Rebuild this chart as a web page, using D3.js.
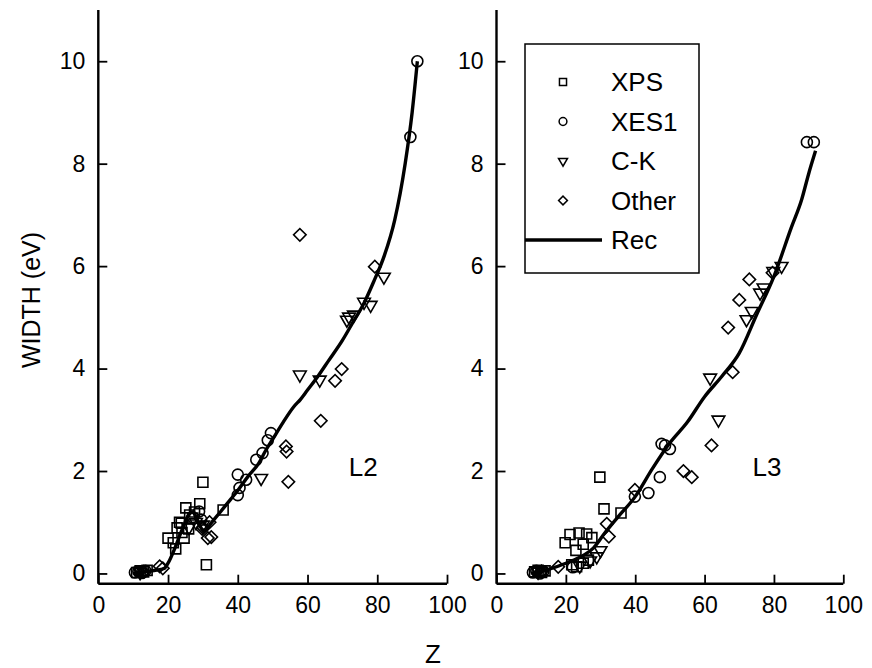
<!DOCTYPE html>
<html>
<head>
<meta charset="utf-8">
<script src="https://cdn.jsdelivr.net/npm/d3@7"></script>
<style>
  body { margin: 0; background: #fff; }
  text { font-family: "Liberation Sans", Arial, sans-serif; fill: #000; }
</style>
</head>
<body>
<div id="main"></div>
<script>
// data: [Z, width in eV]
const xpsL2 = [[11,0.02],[12,0.05],[13,0.03],[14,0.06],[20,0.69],[21.5,0.6],[22.2,0.48],[22.6,0.89],[23.3,1.0],[23.8,0.98],[24,0.8],[24.6,0.69],[25.1,1.28],[25.9,0.87],[26.2,1.14],[27.1,1.08],[27.6,1.2],[29.1,1.36],[30,1.78],[31,0.17],[35.8,1.24]];
const xes1L2 = [[10.5,0.02],[11.5,0.04],[12.5,0.01],[13.5,0.05],[27,1.1],[28.9,1.21],[29.5,1.05],[40,1.93],[40.5,1.67],[40,1.53],[42.4,1.83],[45.3,2.22],[47.1,2.35],[48.6,2.6],[49.5,2.74],[89.5,8.52],[91.5,10]];
const ckL2 = [[12,0.02],[26,0.9],[28,1.0],[30,0.95],[46.7,1.86],[57.8,3.88],[63.5,3.78],[71.3,4.95],[71.9,5.01],[73.3,5.05],[76.2,5.3],[78.1,5.24],[81.9,5.79]];
const otherL2 = [[13,0.03],[17.6,0.14],[18.5,0.1],[29.8,0.87],[30,0.9],[31.9,1.0],[32.4,0.71],[31.4,0.69],[54.5,1.79],[53.8,2.48],[54,2.38],[57.8,6.61],[63.8,2.98],[67.9,3.76],[69.8,3.99],[79.3,5.99]];
const recL2Z = [10,12,15,18,19,20,22,24,26,27,28,29,30,31,32,35,38,40,43,46,48,50,53,56,58,60,63,66,70,73,76,79,82,85,88,90,91.5];
const recL2W = [0,0.02,0.05,0.08,0.1,0.2,0.5,0.85,1.15,1.2,1.1,0.95,0.85,0.85,0.95,1.2,1.45,1.62,1.9,2.15,2.4,2.62,2.95,3.25,3.4,3.58,3.85,4.15,4.55,4.9,5.25,5.7,6.2,6.9,8.0,9.0,10];

const xpsL3 = [[11,0.03],[12,0.06],[13,0.02],[14,0.05],[19.8,0.6],[21.2,0.76],[21.7,0.17],[22.9,0.45],[23.1,0.13],[23.8,0.79],[25,0.2],[25,0.57],[26,0.77],[26.5,0.26],[27.5,0.7],[29.8,1.88],[31,1.26],[35.9,1.18]];
const xes1L3 = [[10.5,0.02],[11.5,0.05],[12.5,0.0],[13.5,0.04],[22,0.12],[39.9,1.5],[43.8,1.57],[47.1,1.88],[47.6,2.53],[48.6,2.5],[50,2.43],[89.5,8.42],[91.5,8.42]];
const ckL3 = [[12,0.03],[24,0.15],[27,0.25],[28.9,0.33],[30,0.45],[61.6,3.82],[64,3.0],[72.1,4.96],[73.6,5.12],[76,5.48],[77,5.58],[79.8,5.9],[82.2,6.0]];
const otherL3 = [[13,0.04],[17.8,0.13],[31.8,0.97],[32.4,0.72],[39.9,1.63],[53.9,2.0],[56.3,1.88],[62,2.5],[66.8,4.8],[68.1,3.93],[70,5.34],[72.9,5.74],[79.6,5.87]];
const recL3Z = [10,15,20,25,28,31,35,40,45,50,55,60,65,70,75,80,85,88,90,92];
const recL3W = [0,0.08,0.2,0.35,0.5,0.77,1.1,1.5,2.05,2.55,2.95,3.45,3.85,4.3,5.05,5.8,6.75,7.3,7.8,8.25];

const xTicks = [0,20,40,60,80,100];
const yTicks = [0,2,4,6,8,10];
const legendNames = ['XPS','XES1','C-K','Other','Rec'];

const svgWidth = 872, svgHeight = 668;
const plotTop = 10, plotBottom = 583.7;

const svg = d3.select('#main').append('svg')
    .attr('width', svgWidth)
    .attr('height', svgHeight);

const yScale = d3.scaleLinear().domain([-0.2, 11]).range([plotBottom, plotTop]);

// marker shapes: square, circle, down triangle, diamond
const markers = [
    {type: d3.symbolSquare, size: 100, rot: 0},
    {type: d3.symbolCircle, size: 95, rot: 0},
    {type: d3.symbolTriangle, size: 70, rot: 180},
    {type: d3.symbolSquare, size: 78, rot: 45}
];

function drawPanel(x0, x1, sets, recZ, recW, label, labelZ) {
    const xScale = d3.scaleLinear().domain([0, 100]).range([x0, x1]);
    const g = svg.append('g');

    // inward ticks, major and minor
    const xAxis = g.append('g')
        .attr('transform', `translate(0, ${plotBottom})`)
        .call(d3.axisBottom(xScale).tickValues(d3.range(10, 100, 20)).tickSize(-5).tickFormat(''))
        .call(d3.axisBottom(xScale).tickValues(xTicks).tickSize(-9).tickPadding(13));
    const yAxis = g.append('g')
        .attr('transform', `translate(${x0}, 0)`)
        .call(d3.axisLeft(yScale).tickValues([1,3,5,7,9]).tickSize(-5).tickFormat(''))
        .call(d3.axisLeft(yScale).tickValues(yTicks).tickSize(-9).tickPadding(13));
    [xAxis, yAxis].forEach(a => {
        a.selectAll('.domain').remove();
        a.selectAll('line').attr('stroke-width', 1.8);
        a.selectAll('text').style('font-size', '23px');
    });
    g.append('line').attr('x1', x0).attr('x2', x1).attr('y1', plotBottom).attr('y2', plotBottom)
        .attr('stroke', '#000').attr('stroke-width', 2.4);
    g.append('line').attr('x1', x0).attr('x2', x0).attr('y1', plotTop).attr('y2', plotBottom)
        .attr('stroke', '#000').attr('stroke-width', 2.4);

    sets.forEach((pts, i) => {
        const m = markers[i];
        g.selectAll(null)
            .data(pts)
            .enter()
            .append('path')
            .attr('d', d3.symbol().type(m.type).size(m.size))
            .attr('transform', d => `translate(${xScale(d[0])}, ${yScale(d[1])}) rotate(${m.rot})`)
            .attr('fill', 'none')
            .attr('stroke', '#000')
            .attr('stroke-width', 1.6);
    });

    g.append('path')
        .datum(recZ.map((z, i) => [z, recW[i]]))
        .attr('fill', 'none')
        .attr('stroke', '#000')
        .attr('stroke-width', 3.4)
        .attr('d', d3.line()
            .x(d => xScale(d[0]))
            .y(d => yScale(d[1]))
            .curve(d3.curveMonotoneX));

    g.append('text')
        .attr('x', xScale(labelZ))
        .attr('y', yScale(1.9))
        .attr('text-anchor', 'middle')
        .style('font-size', '26px')
        .text(label);
}

drawPanel(98.3, 447, [xpsL2, xes1L2, ckL2, otherL2], recL2Z, recL2W, 'L2', 76);
drawPanel(496.5, 843.3, [xpsL3, xes1L3, ckL3, otherL3], recL3Z, recL3W, 'L3', 78);

// legend
const legend = svg.append('g');
legend.append('rect')
    .attr('x', 525).attr('y', 44).attr('width', 174).attr('height', 229)
    .attr('fill', '#fff').attr('stroke', '#000').attr('stroke-width', 1.5);
legendNames.forEach((name, i) => {
    const y = 82 + i * 39.5;
    if (i < 4) {
        const m = markers[i];
        legend.append('path')
            .attr('d', d3.symbol().type(m.type).size(m.size * 0.5))
            .attr('transform', `translate(563, ${y}) rotate(${m.rot})`)
            .attr('fill', 'none').attr('stroke', '#000').attr('stroke-width', 1.5);
    } else {
        legend.append('line')
            .attr('x1', 525).attr('x2', 602).attr('y1', y).attr('y2', y)
            .attr('stroke', '#000').attr('stroke-width', 3.4);
    }
    legend.append('text')
        .attr('x', 611).attr('y', y + 9)
        .style('font-size', '26px')
        .text(name);
});

// axis titles
svg.append('text')
    .attr('x', 433).attr('y', 663)
    .attr('text-anchor', 'middle')
    .style('font-size', '26px')
    .text('Z');
svg.append('text')
    .attr('transform', 'translate(40, 300) rotate(-90)')
    .attr('text-anchor', 'middle')
    .style('font-size', '25px')
    .text('WIDTH (eV)');
</script>
</body>
</html>
